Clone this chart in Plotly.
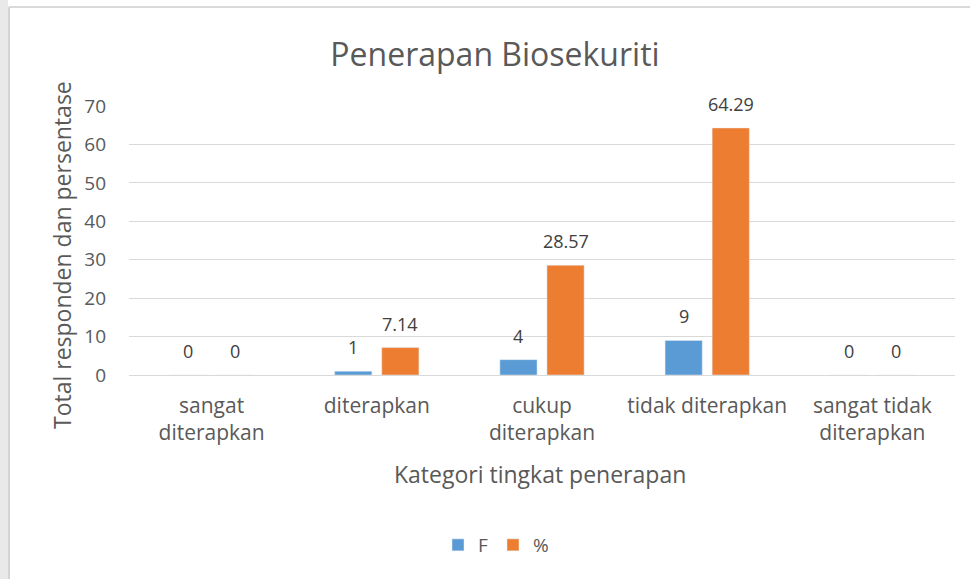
import plotly.graph_objects as go

categories = ["sangat<br>diterapkan", "diterapkan", "cukup<br>diterapkan",
              "tidak diterapkan", "sangat tidak<br>diterapkan"]
freq = [0, 1, 4, 9, 0]
pct = [0, 7.14, 28.57, 64.29, 0]

BLUE = "#5B9BD5"
ORANGE = "#ED7D31"
TEXT = "#595959"
FONT = "Open Sans, sans-serif"

W, H = 970, 579
L, R, T, B = 129, 15, 106, 204
PW, PH = W - L - R, H - T - B


def px_x(px):
    return (px - L) / PW


def px_y(py):
    return (H - B - py) / PH


fig = go.Figure()
fig.add_trace(go.Bar(x=categories, y=freq, name="F", marker_color=BLUE))
fig.add_trace(go.Bar(x=categories, y=pct, name="%", marker_color=ORANGE))

# data labels, Excel-style, above each bar
slot = PW / len(categories) * (1 - 0.43) / 2
for vals, shift in [(freq, -slot / 2), (pct, slot / 2)]:
    for c, v in zip(categories, vals):
        fig.add_annotation(x=c, y=v, text=f"{v:g}", showarrow=False,
                           xshift=shift, yshift=24,
                           font=dict(family=FONT, size=18, color="#404040"))

# axis titles placed like Excel does
fig.add_annotation(text="Total responden dan persentase", textangle=-90,
                   xref="paper", yref="paper", x=px_x(62), y=px_y(255),
                   xanchor="center", yanchor="middle",
                   showarrow=False, font=dict(size=23, color=TEXT))
fig.add_annotation(text="Kategori tingkat penerapan",
                   xref="paper", yref="paper", x=px_x(540), y=px_y(474),
                   xanchor="center", yanchor="middle",
                   showarrow=False, font=dict(size=23, color=TEXT))

# worksheet frame around the chart
fig.add_shape(type="rect", xref="paper", yref="paper", layer="below",
              x0=px_x(0), x1=px_x(8), y0=px_y(H + 5), y1=px_y(-5),
              fillcolor="#e9e9e9", line_width=0)
fig.add_shape(type="line", xref="paper", yref="paper", layer="below",
              x0=px_x(9), x1=px_x(9), y0=px_y(H + 5), y1=px_y(7),
              line=dict(color="#d4d4d4", width=2))
fig.add_shape(type="line", xref="paper", yref="paper", layer="below",
              x0=px_x(9), x1=px_x(W + 5), y0=px_y(7), y1=px_y(7),
              line=dict(color="#d9d9d9", width=2))

fig.update_layout(
    width=W, height=H,
    margin=dict(l=L, r=R, t=T, b=B),
    paper_bgcolor="white", plot_bgcolor="white",
    font=dict(family=FONT, size=19, color=TEXT),
    title=dict(text="Penerapan Biosekuriti", x=495 / W,
               xanchor="center", y=1 - 55 / H, yanchor="middle",
               font=dict(size=32, color=TEXT)),
    barmode="group", bargap=0.43, bargroupgap=0.21,
    xaxis=dict(showline=False, showgrid=False, tickfont=dict(size=21),
               ticklabelstandoff=16),
    yaxis=dict(range=[0, 70], dtick=10, showgrid=True, gridcolor="#d9d9d9",
               gridwidth=1, zeroline=True, zerolinecolor="#d9d9d9",
               zerolinewidth=1, showline=False, ticklabelstandoff=22,
               tickfont=dict(size=19)),
    legend=dict(orientation="h", x=px_x(496), xanchor="center",
                y=px_y(545), yanchor="middle",
                font=dict(size=19), itemwidth=30),
    showlegend=True,
)

fig.write_html("out.html", config={"displayModeBar": False},
               post_script="document.body.style.margin='0';")
